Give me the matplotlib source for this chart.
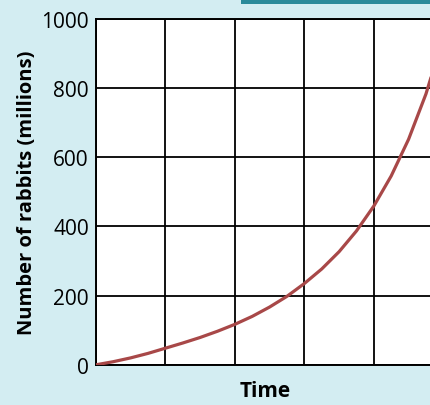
import matplotlib.pyplot as plt
from matplotlib.patches import Rectangle

# values (time in grid units, rabbits in millions)
time = [0, 0.25, 0.5, 0.75, 1, 1.25, 1.5, 1.75, 2, 2.25, 2.5, 2.75,
        3, 3.25, 3.5, 3.75, 4, 4.25, 4.5, 4.75, 5]
rabbits = [0, 9, 20, 33, 48, 63, 79, 97, 117, 140, 167, 198,
           235, 277, 327, 387, 459, 546, 652, 783, 948]

y_ticks = [0, 200, 400, 600, 800, 1000]
x_grid = [0, 1, 2, 3, 4, 5]

bg = "#d3edf2"

fig = plt.figure(figsize=(4.3, 4.06), dpi=100)
fig.patch.set_facecolor(bg)

# dark strip at the top edge of the page
fig.patches.append(Rectangle((0.56, 0.988), 0.44, 0.012, transform=fig.transFigure,
                             facecolor="#2a8a9a", edgecolor="none"))

ax = fig.add_axes([0.223, 0.099, 0.808, 0.852])
ax.set_facecolor("white")

ax.plot(time, rabbits, color="#a84848", linewidth=2.3, solid_capstyle="round",
        solid_joinstyle="round", zorder=3)

ax.set_xlim(0, 5)
ax.set_ylim(0, 1000)
ax.set_xticks(x_grid)
ax.set_xticklabels([])
ax.set_yticks(y_ticks)
ax.set_yticklabels([str(v) for v in y_ticks], fontsize=15, family="Open Sans")
ax.tick_params(length=0, pad=5)

ax.grid(True, color="black", linewidth=1.3)
for s in ax.spines.values():
    s.set_color("black")
    s.set_linewidth(1.4)

ax.set_ylabel("Number of rabbits (millions)", fontsize=14.5, fontweight="bold",
              family="Open Sans", labelpad=3)
fig.text(0.617, 0.035, "Time", ha="center", va="center", fontsize=15,
         fontweight="bold", family="Open Sans")

fig.savefig("out.png", dpi=100, facecolor=fig.get_facecolor())
